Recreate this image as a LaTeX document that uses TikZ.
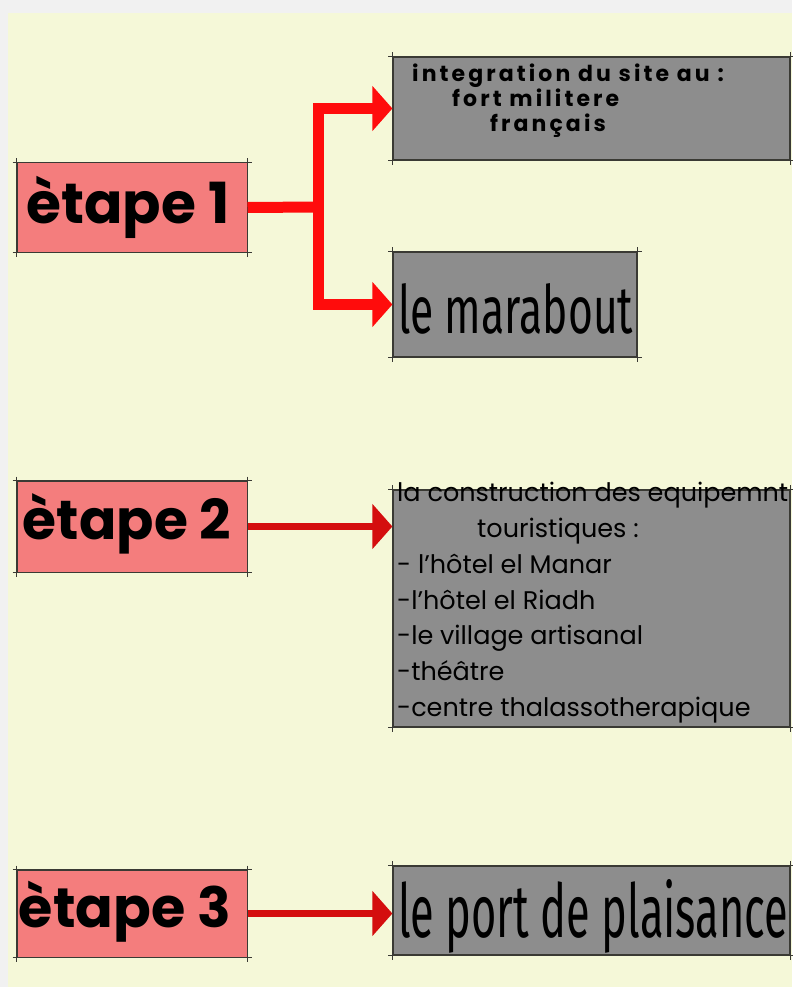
\documentclass[tikz,border=0pt]{standalone}
\usepackage{fontspec}
\usepackage{graphicx}
\usetikzlibrary{arrows.meta}
\setmainfont{Poppins}
\newfontfamily\condfont{Fira Sans}
\newfontfamily\widefont[LetterSpace=14]{Poppins}
\definecolor{bgcream}{HTML}{F5F8D8}
\definecolor{bgframe}{HTML}{F1F1F1}
\definecolor{pinkfill}{HTML}{F47D7D}
\definecolor{grayfill}{HTML}{8D8D8D}
\definecolor{edge}{HTML}{3A3A34}
\definecolor{redarrow}{HTML}{FF0C0C}
\definecolor{darkred}{HTML}{D40E0E}
\tikzset{
  pinkbox/.style={draw=edge, fill=pinkfill, line width=1pt, inner sep=0pt, minimum width=230pt},
  graybox/.style={draw=edge, fill=grayfill, line width=1.2pt, inner sep=0pt},
  steplabel/.style={inner sep=0pt, text=black},
  connector/.style={draw=redarrow, line width=11pt, line join=miter},
  thinconn/.style={draw=darkred, line width=7pt},
  tip/.style={-{Triangle[length=20pt,width=44pt]}},
  sketch/.style={draw=edge, line width=1pt},
}
\begin{document}
\begin{tikzpicture}[x=1pt,y=-1pt]
\useasboundingbox (0,0) rectangle (792,987);
\fill[bgframe] (0,0) rectangle (792,987);
\fill[bgcream] (8,13) rectangle (792,987);

% left boxes
\node[pinkbox, minimum height=89pt] (e1) at (132,207.5) {};
\node[pinkbox, minimum height=91pt] (e2) at (132,526.5) {};
\node[pinkbox, minimum height=87pt] (e3) at (132,913.5) {};

% right boxes
\node[graybox, minimum width=397pt, minimum height=103pt] (g1) at (591.5,108.5) {};
\node[graybox, minimum width=244pt, minimum height=105pt] (g2) at (515,304.5) {};
\node[graybox, minimum width=397pt, minimum height=237pt] (g3) at (591.5,608.5) {};
\node[graybox, minimum width=397pt, minimum height=89pt] (g4) at (591.5,910.5) {};

% sketchy overhanging edges
\foreach \b in {e1,e2,e3,g1,g2,g3,g4}{
  \draw[sketch] ([xshift=-4pt]\b.north west) -- ([xshift=4pt]\b.north east);
  \draw[sketch] ([xshift=-4pt]\b.south west) -- ([xshift=4pt]\b.south east);
  \draw[sketch] ([yshift=4pt]\b.north west) -- ([yshift=-4pt]\b.south west);
  \draw[sketch] ([yshift=4pt]\b.north east) -- ([yshift=-4pt]\b.south east);
}

\node[steplabel] (t1) at (128,207) {\resizebox{203pt}{!}{\bfseries ètape 1}};
\node[steplabel] (t2) at (127,524) {\resizebox{208pt}{!}{\bfseries ètape 2}};
\node[steplabel] (t3) at (125,912) {\resizebox{212pt}{!}{\bfseries ètape 3}};

\node[anchor=north west, inner sep=0pt, align=left, font=\widefont\bfseries\fontsize{22}{25}\selectfont] (g1text) at (412,64)
  {integration du site au :\\\hspace*{40pt}fort militere\\\hspace*{78pt}français};
\node[anchor=base west, inner sep=0pt] (g2text) at (398,333) {\resizebox{235pt}{50pt}{\condfont le marabout}};
\node[anchor=north west, inner sep=0pt, align=left, font=\fontsize{25.5}{35.8}\selectfont] (g3text) at (397,482)
  {la construction des equipemnt\\\hspace*{80pt}touristiques :\\- l'hôtel el Manar\\-l'hôtel el Riadh\\-le village artisanal\\-théâtre\\-centre thalassotherapique};
\node[anchor=base west, inner sep=0pt] (g4text) at (398,937) {\resizebox{390pt}{58pt}{\condfont le port de plaisance}};

% connectors
\coordinate (j1) at (318,207);
\draw[connector] (e1.east) -- (j1);
\draw[connector, tip] (j1) |- (g1.west);
\draw[connector, tip] (j1) |- (g2.west);
\draw[thinconn, tip] (e2.east) -- (e2.east -| g3.west);
\draw[thinconn, tip] (e3.east) -- (e3.east -| g4.west);
\end{tikzpicture}
\end{document}
